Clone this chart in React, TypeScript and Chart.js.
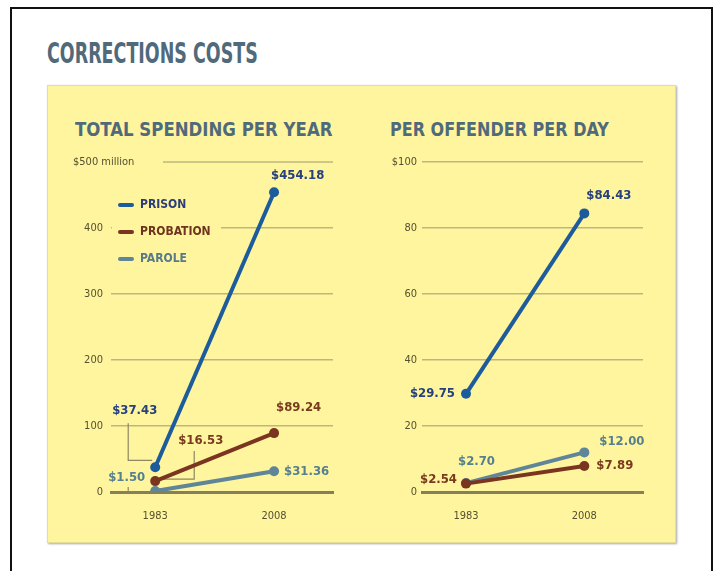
import React, { useEffect, useRef } from 'react';
import { Chart, registerables } from 'chart.js';

Chart.register(...registerables);

// ---------- data ----------
const years = [1983, 2008];
const seriesNames = ['PRISON', 'PROBATION', 'PAROLE'];

const totalPrison = [37.43, 454.18];
const totalProbation = [16.53, 89.24];
const totalParole = [1.5, 31.36];
const totalTickValues = [0, 100, 200, 300, 400, 500];
const totalTickLabels = ['0', '100', '200', '300', '400', ''];
const totalTopLabel = '$500 million';

const dailyPrison = [29.75, 84.43];
const dailyProbation = [2.54, 7.89];
const dailyParole = [2.7, 12.0];
const dailyTickValues = [0, 20, 40, 60, 80, 100];
const dailyTickLabels = ['0', '20', '40', '60', '80', '$100'];

// ---------- style ----------
const YELLOW = '#fff59e';
const LINE_COLORS = ['#1d5c9c', '#7a3521', '#5e8698'];
const LABEL_COLORS = ['#27407e', '#7a3a1f', '#56808f'];
const LEGEND_COLORS = ['#2c3c7c', '#6e3420', '#58798a'];
const GRID = '#bdb77f';
const ZERO = '#858059';
const TICK = '#55502f';
const FAMILY = '"DejaVu Sans Condensed", "Liberation Sans Narrow", "DejaVu Sans", sans-serif';

type Place = { align: CanvasTextAlign; dx: number; dy: number; bracket?: number[][] };

const totalPlaces: Place[][] = [
  [
    { align: 'left', dx: -43, dy: -57, bracket: [[-27, -44], [-27, -7], [-3, -7]] },
    { align: 'left', dx: -3, dy: -17 },
  ],
  [
    { align: 'left', dx: 23, dy: -40, bracket: [[39, -30], [39, -2], [6, -2]] },
    { align: 'left', dx: 2, dy: -25 },
  ],
  [
    { align: 'right', dx: -10, dy: -13, bracket: [[-27, -4], [-27, 1]] },
    { align: 'left', dx: 10, dy: 0 },
  ],
];

const dailyPlaces: Place[][] = [
  [
    { align: 'right', dx: -11, dy: 0 },
    { align: 'left', dx: 2, dy: -18 },
  ],
  [
    { align: 'right', dx: -9, dy: -4 },
    { align: 'left', dx: 12, dy: 0 },
  ],
  [
    { align: 'left', dx: -8, dy: -21 },
    { align: 'left', dx: 15, dy: -11 },
  ],
];

type PanelProps = {
  left: number;
  top: number;
  width: number;
  height: number;
  yAxisWidth: number;
  tickPad: number;
  series: number[][];
  tickValues: number[];
  tickLabels: string[];
  places: Place[][];
  legend: boolean;
  topLabel?: string;
};

function Panel(props: PanelProps) {
  const ref = useRef<HTMLCanvasElement>(null);
  useEffect(() => {
    const { series, tickValues, tickLabels, places, legend, topLabel, yAxisWidth, tickPad } = props;
    const yMax = tickValues[tickValues.length - 1];

    const plugin = {
      id: 'annot',
      beforeDatasetsDraw(chart: any) {
        const { ctx, chartArea: ca, scales } = chart;
        const ys = scales.y;
        ctx.save();
        if (topLabel) {
          const py = ys.getPixelForValue(yMax);
          ctx.font = `11px ${FAMILY}`;
          ctx.fillStyle = TICK;
          ctx.textAlign = 'left';
          ctx.textBaseline = 'middle';
          ctx.fillText(topLabel, ca.left - 38, py);
          ctx.strokeStyle = GRID;
          ctx.lineWidth = 1.5;
          ctx.beginPath();
          ctx.moveTo(ca.left + 52, py);
          ctx.lineTo(ca.right, py);
          ctx.stroke();
        }
        if (legend) {
          ctx.fillStyle = YELLOW;
          ctx.fillRect(ca.left + 1, ca.top + 30, 109, 76);
          seriesNames.forEach((n, i) => {
            const y = ca.top + 43 + i * 27;
            ctx.strokeStyle = LINE_COLORS[i];
            ctx.lineWidth = 4;
            ctx.lineCap = 'round';
            ctx.beginPath();
            ctx.moveTo(ca.left + 9, y);
            ctx.lineTo(ca.left + 21, y);
            ctx.stroke();
            ctx.font = `bold 12px ${FAMILY}`;
            ctx.fillStyle = LEGEND_COLORS[i];
            ctx.textAlign = 'left';
            ctx.textBaseline = 'middle';
            ctx.fillText(n, ca.left + 29, y);
          });
        }
        // brackets
        ctx.strokeStyle = '#8d8862';
        ctx.lineWidth = 1.2;
        ctx.lineCap = 'butt';
        chart.data.datasets.forEach((_: any, i: number) => {
          const meta = chart.getDatasetMeta(i);
          meta.data.forEach((pt: any, j: number) => {
            const b = places[i][j].bracket;
            if (!b) return;
            ctx.beginPath();
            b.forEach((q, k) => {
              if (k === 0) ctx.moveTo(pt.x + q[0], pt.y + q[1]);
              else ctx.lineTo(pt.x + q[0], pt.y + q[1]);
            });
            ctx.stroke();
          });
        });
        ctx.restore();
      },
      afterDatasetsDraw(chart: any) {
        const { ctx } = chart;
        ctx.save();
        ctx.font = `bold 13px ${FAMILY}`;
        ctx.textBaseline = 'middle';
        chart.data.datasets.forEach((_: any, i: number) => {
          const meta = chart.getDatasetMeta(i);
          meta.data.forEach((pt: any, j: number) => {
            const p = places[i][j];
            ctx.textAlign = p.align;
            ctx.fillStyle = LABEL_COLORS[i];
            ctx.fillText('$' + series[i][j].toFixed(2), pt.x + p.dx, pt.y + p.dy);
          });
        });
        ctx.restore();
      },
    };

    const chart = new Chart(ref.current as HTMLCanvasElement, {
      type: 'line',
      data: {
        datasets: series.map((vals, i) => ({
          label: seriesNames[i],
          data: years.map((yr, j) => ({ x: yr, y: vals[j] })),
          borderColor: LINE_COLORS[i],
          backgroundColor: LINE_COLORS[i],
          pointRadius: 5,
          pointBorderWidth: 0,
          borderWidth: 4,
        })),
      },
      options: {
        animation: false,
        responsive: false,
        devicePixelRatio: 1,
        layout: { padding: { left: 0, right: 17, top: 22, bottom: 0 } },
        plugins: { legend: { display: false }, tooltip: { enabled: false } },
        scales: {
          x: {
            type: 'linear',
            min: 1973.7,
            max: 2020.4,
            afterBuildTicks: (s: any) => {
              s.ticks = years.map((v) => ({ value: v }));
            },
            afterFit: (s: any) => {
              s.height = 38;
            },
            grid: { display: false },
            border: { display: true, color: ZERO, width: 3 },
            ticks: {
              padding: 10,
              color: TICK,
              font: { family: FAMILY, size: 11 },
              callback: (v: any) => String(v),
            },
          },
          y: {
            type: 'linear',
            min: 0,
            max: yMax,
            afterBuildTicks: (s: any) => {
              s.ticks = tickValues.map((v) => ({ value: v }));
            },
            afterFit: (s: any) => {
              s.width = yAxisWidth;
            },
            grid: {
              drawTicks: false,
              lineWidth: 1.5,
              color: (c: any) =>
                c.tick && (c.tick.value === 0 || (topLabel && c.tick.value === yMax)) ? 'rgba(0,0,0,0)' : GRID,
            },
            border: { display: false },
            ticks: {
              padding: tickPad,
              color: TICK,
              font: { family: FAMILY, size: 11 },
              callback: (v: any) => {
                const k = tickValues.indexOf(Number(v));
                return k >= 0 ? tickLabels[k] : '';
              },
            },
          },
        },
      },
      plugins: [plugin],
    } as any);
    return () => chart.destroy();
  }, []);
  return (
    <canvas
      ref={ref}
      width={props.width}
      height={props.height}
      style={{ position: 'absolute', left: props.left, top: props.top, width: props.width, height: props.height }}
    />
  );
}

const titleStyle: React.CSSProperties = {
  position: 'absolute',
  fontFamily: FAMILY,
  fontWeight: 'bold',
  color: '#506a7b',
  whiteSpace: 'nowrap',
  transformOrigin: 'left center',
  lineHeight: 1,
};

export default function App() {
  return (
    <div style={{ position: 'absolute', left: 0, top: 0, width: 715, height: 571, overflow: 'hidden', background: '#fff' }}>
      <div
        style={{
          position: 'absolute',
          left: 10,
          top: 7,
          width: 703,
          height: 620,
          border: '2px solid #111',
          boxSizing: 'border-box',
        }}
      />
      <div style={{ ...titleStyle, left: 47, top: 39, fontSize: 29, transform: 'scaleX(0.67)' }}>CORRECTIONS COSTS</div>
      <div
        style={{
          position: 'absolute',
          left: 47,
          top: 85,
          width: 629,
          height: 458,
          background: YELLOW,
          boxShadow: '1px 1px 2px rgba(0,0,0,0.35)',
          boxSizing: 'border-box',
          border: '1px solid #e6dd96',
        }}
      />
      <div style={{ ...titleStyle, left: 75, top: 119, fontSize: 20, transform: 'scaleX(0.92)' }}>TOTAL SPENDING PER YEAR</div>
      <div style={{ ...titleStyle, left: 390, top: 119, fontSize: 20, transform: 'scaleX(0.89)' }}>PER OFFENDER PER DAY</div>
      <Panel
        left={40}
        top={140}
        width={310}
        height={390}
        yAxisWidth={71}
        tickPad={8}
        series={[totalPrison, totalProbation, totalParole]}
        tickValues={totalTickValues}
        tickLabels={totalTickLabels}
        places={totalPlaces}
        legend={true}
        topLabel={totalTopLabel}
      />
      <Panel
        left={350}
        top={140}
        width={310}
        height={390}
        yAxisWidth={72}
        tickPad={5}
        series={[dailyPrison, dailyProbation, dailyParole]}
        tickValues={dailyTickValues}
        tickLabels={dailyTickLabels}
        places={dailyPlaces}
        legend={false}
      />
    </div>
  );
}
